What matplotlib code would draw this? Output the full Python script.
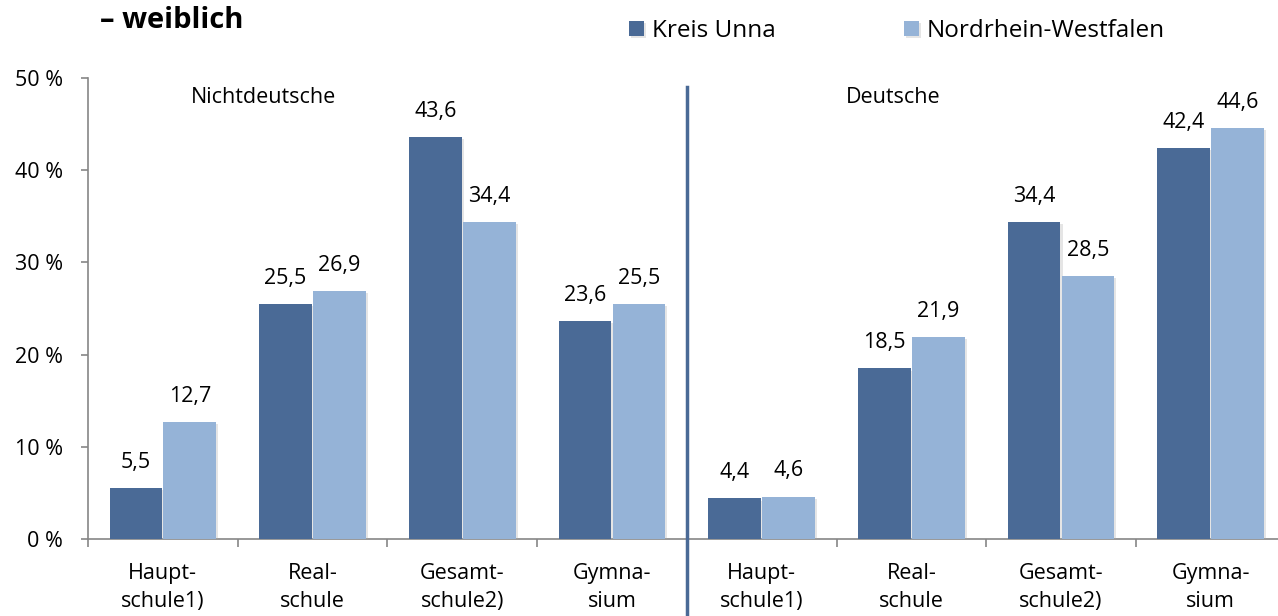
import numpy as np
from matplotlib import pyplot as plt
import matplotlib.patheffects as pe

categories = ["Haupt-\nschule1)", "Real-\nschule", "Gesamt-\nschule2)", "Gymna-\nsium",
              "Haupt-\nschule1)", "Real-\nschule", "Gesamt-\nschule2)", "Gymna-\nsium"]
kreis_unna = [5.5, 25.5, 43.6, 23.6, 4.4, 18.5, 34.4, 42.4]
nrw = [12.7, 26.9, 34.4, 25.5, 4.6, 21.9, 28.5, 44.6]
series_names = ["Kreis Unna", "Nordrhein-Westfalen"]
group_names = ["Nichtdeutsche", "Deutsche"]
yticks = [0, 10, 20, 30, 40, 50]

dark = "#4A6A96"
light = "#95B3D7"
grey = "#868686"
fs = 15.5

plt.rcParams['font.family'] = ['Open Sans', 'DejaVu Sans']

W, H = 1278, 616
fig = plt.figure(figsize=(W / 100, H / 100), dpi=100)
ax = fig.add_axes([88 / W, (H - 539) / H, 8 * 149.7 / W, (539 - 78) / H])

x = np.arange(len(categories))
bw = 0.352
shadow = [pe.SimplePatchShadow(offset=(1.5, -1.5), shadow_rgbFace="#aaaaaa", alpha=0.3), pe.Normal()]
b1 = ax.bar(x - bw / 2 - 0.004, kreis_unna, bw, color=dark, label=series_names[0], zorder=3)
b2 = ax.bar(x + bw / 2 + 0.004, nrw, bw, color=light, label=series_names[1], zorder=3)
for b in list(b1) + list(b2):
    b.set_path_effects(shadow)

for bars, vals in ((b1, kreis_unna), (b2, nrw)):
    for b, v in zip(bars, vals):
        ax.annotate(f"{v:.1f}".replace(".", ","), (b.get_x() + b.get_width() / 2, v),
                    xytext=(0, 18.5), textcoords="offset points", ha="center", va="center",
                    fontsize=fs)

ax.set_xlim(-0.5, 7.5)
ax.set_ylim(0, 50)
ax.set_yticks(yticks)
ax.set_yticklabels([f"{t} %" for t in yticks], fontsize=fs)
ax.set_xticks(x)
ax.set_xticklabels(categories, fontsize=fs, linespacing=1.45)
ax.set_xticks(np.arange(-0.5, 8, 1), minor=True)
ax.tick_params(axis="x", which="major", length=0, pad=17)
ax.tick_params(axis="x", which="minor", length=6, color=grey, width=1.2)
ax.tick_params(axis="y", length=5, color=grey, width=1.2, pad=13)
for s in ("top", "right"):
    ax.spines[s].set_visible(False)
for s in ("left", "bottom"):
    ax.spines[s].set_color(grey)
    ax.spines[s].set_linewidth(1.2)

# divider between the two groups
ax.plot([3.5, 3.5], [49.0, -9], color=dark, lw=2.5, clip_on=False, zorder=4)

ax.text(0.67, 47.9, group_names[0], ha="center", va="center", fontsize=fs)
ax.text(4.88, 47.9, group_names[1], ha="center", va="center", fontsize=fs)

fig.text(100 / W, 1 - 20 / H, "– weiblich", fontsize=21, fontweight="bold", va="center")

fig.legend(handles=[b1, b2], labels=series_names, loc="center left",
           bbox_to_anchor=(617 / W, 1 - 31 / H), ncol=2, frameon=False, borderpad=0,
           fontsize=17.5, handlelength=0.62, handleheight=0.62, handletextpad=0.33,
           columnspacing=5.25)

fig.savefig("out.png", dpi=100)
